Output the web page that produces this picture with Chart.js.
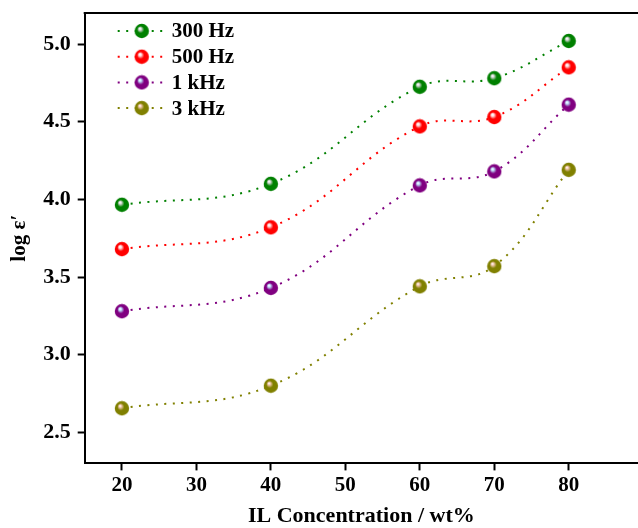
<!DOCTYPE html>
<html>
<head>
<meta charset="utf-8">
<script src="https://cdn.jsdelivr.net/npm/chart.js@4.4.1/dist/chart.umd.min.js"></script>
<style>
  body { margin: 0; background: #fff; }
</style>
</head>
<body>
<canvas id="chart" width="638" height="528"></canvas>
<script>
// data
const concentrations = [20, 40, 60, 70, 80];
const seriesNames = ['300 Hz', '500 Hz', '1 kHz', '3 kHz'];
const logEps300Hz = [3.965, 4.10, 4.725, 4.78, 5.02];
const logEps500Hz = [3.68, 3.82, 4.47, 4.53, 4.85];
const logEps1kHz = [3.28, 3.43, 4.09, 4.18, 4.61];
const logEps3kHz = [2.655, 2.80, 3.44, 3.57, 4.19];
const xTickValues = [20, 30, 40, 50, 60, 70, 80];
const yTickValues = [2.5, 3.0, 3.5, 4.0, 4.5, 5.0];

const FONT = "'Liberation Serif', 'Times New Roman', serif";

// line colour, ball highlight
const palette = [
    { color: '#008000', shine: '#d8d8d8' },
    { color: '#ff0000', shine: '#ffe0e0' },
    { color: '#800080', shine: '#bfe6ff' },
    { color: '#808000', shine: '#f4c8b0' }
];

// little shaded sphere used as the point marker
function makeBall(color, shine) {
    const c = document.createElement('canvas');
    c.width = 16;
    c.height = 16;
    const g = c.getContext('2d');
    const grad = g.createRadialGradient(6, 5.5, 0.3, 8, 8, 7.5);
    grad.addColorStop(0, '#ffffff');
    grad.addColorStop(0.15, shine);
    grad.addColorStop(0.45, color);
    grad.addColorStop(1, color);
    g.fillStyle = grad;
    g.beginPath();
    g.arc(8, 8, 7.2, 0, Math.PI * 2);
    g.fill();
    return c;
}

const allValues = [logEps300Hz, logEps500Hz, logEps1kHz, logEps3kHz];

const datasets = allValues.map((vals, i) => {
    const ball = makeBall(palette[i].color, palette[i].shine);
    return {
        label: seriesNames[i],
        data: concentrations.map((x, j) => ({ x: x, y: vals[j] })),
        borderColor: palette[i].color,
        backgroundColor: palette[i].color,
        borderWidth: 2,
        borderDash: [2, 6.5],
        tension: 0.4,
        pointStyle: ball,
        pointRadius: 7,
        pointHoverRadius: 7,
        fill: false,
        clip: false
    };
});

// legend in the top-left corner of the plot: dots, ball, dots, label
const insideLegend = {
    id: 'insideLegend',
    afterDatasetsDraw(chart) {
        const ctx = chart.ctx;
        const area = chart.chartArea;
        ctx.save();
        chart.data.datasets.forEach((ds, i) => {
            const cy = area.top + 18 + i * 25.7;
            const x0 = area.left + 33;
            ctx.strokeStyle = ds.borderColor;
            ctx.lineWidth = 2;
            ctx.setLineDash([2, 6.5]);
            ctx.beginPath();
            ctx.moveTo(x0, cy);
            ctx.lineTo(x0 + 48, cy);
            ctx.stroke();
            ctx.setLineDash([]);
            ctx.fillStyle = '#fff';
            ctx.fillRect(x0 + 17, cy - 8, 14, 16);
            ctx.drawImage(ds.pointStyle, x0 + 16, cy - 8);
            ctx.fillStyle = '#000';
            ctx.font = 'bold 21px ' + FONT;
            ctx.textBaseline = 'middle';
            ctx.fillText(ds.label, x0 + 54, cy + 1);
        });
        ctx.restore();
    }
};

// top edge of the frame
const topFrame = {
    id: 'topFrame',
    afterDraw(chart) {
        const ctx = chart.ctx;
        const area = chart.chartArea;
        ctx.save();
        ctx.strokeStyle = '#000';
        ctx.lineWidth = 2;
        ctx.beginPath();
        ctx.moveTo(area.left - 1, area.top);
        ctx.lineTo(area.right, area.top);
        ctx.stroke();
        ctx.restore();
    }
};

new Chart(document.getElementById('chart'), {
    type: 'line',
    data: { datasets: datasets },
    options: {
        responsive: false,
        animation: false,
        layout: {
            autoPadding: false,
            padding: { left: 7, top: 13, right: 0, bottom: -2 }
        },
        plugins: {
            legend: { display: false },
            tooltip: { enabled: false }
        },
        scales: {
            x: {
                type: 'linear',
                min: 15,
                max: 89.3,
                afterBuildTicks: scale => {
                    scale.ticks = xTickValues.map(v => ({ value: v }));
                },
                afterFit: scale => {
                    scale.paddingLeft = 0;
                    scale.paddingRight = 0;
                },
                ticks: {
                    color: '#000',
                    font: { family: FONT, size: 21, weight: 'bold' },
                    padding: 3
                },
                grid: {
                    display: true,
                    drawOnChartArea: false,
                    tickLength: 7,
                    tickWidth: 2,
                    tickColor: '#000'
                },
                border: { color: '#000', width: 2 },
                title: {
                    display: true,
                    text: 'IL Concentration / wt%',
                    color: '#000',
                    font: { family: FONT, size: 22, weight: 'bold' },
                    padding: { top: 2, bottom: 0 }
                }
            },
            y: {
                min: 2.3,
                max: 5.2,
                afterBuildTicks: scale => {
                    scale.ticks = yTickValues.map(v => ({ value: v }));
                },
                afterFit: scale => {
                    scale.paddingTop = 0;
                    scale.paddingBottom = 0;
                },
                ticks: {
                    color: '#000',
                    font: { family: FONT, size: 22, weight: 'bold' },
                    padding: 7,
                    callback: v => v.toFixed(1)
                },
                grid: {
                    display: true,
                    drawOnChartArea: false,
                    tickLength: 7,
                    tickWidth: 2,
                    tickColor: '#000'
                },
                border: { color: '#000', width: 2 },
                title: {
                    display: true,
                    text: 'log ε′',
                    color: '#000',
                    font: { family: FONT, size: 21, weight: 'bold' },
                    padding: { top: 0, bottom: 4 }
                }
            }
        }
    },
    plugins: [insideLegend, topFrame]
});
</script>
</body>
</html>
